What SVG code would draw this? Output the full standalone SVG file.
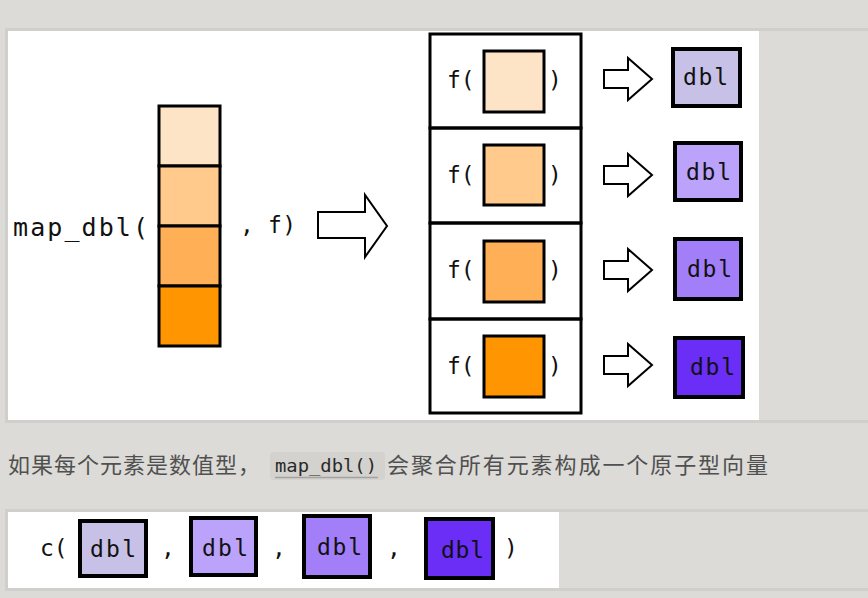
<svg xmlns="http://www.w3.org/2000/svg" width="868" height="598" viewBox="0 0 868 598">
<defs>
<style>
.mono{font-family:"DejaVu Sans Mono","Liberation Mono",monospace;fill:#111;}
.lbl{font-family:"DejaVu Sans Mono","Liberation Mono",monospace;fill:#111;font-size:23px;}
.cell{stroke:#000;stroke-width:3;}
.dbl{stroke:#000;stroke-width:4;}
.frame{fill:none;stroke:#000;stroke-width:3;}
.arrow{fill:#fff;stroke:#000;stroke-width:2;stroke-linejoin:miter;}
.cjk{font-family:"Noto Sans CJK SC","Noto Sans",sans-serif;fill:#505050;font-size:22px;}
</style>
</defs>
<rect x="0" y="0" width="868" height="598" fill="#dcdbd7"/>
<!-- top panel -->
<rect x="5" y="28" width="870" height="395" fill="#d0cfcb"/>
<rect x="8" y="31" width="860" height="389" fill="#dcdbd7"/>
<rect x="8" y="31" width="751" height="389" fill="#ffffff"/>
<!-- bottom panel -->
<rect x="5" y="509" width="870" height="82" fill="#d0cfcb"/>
<rect x="8" y="512" width="860" height="76" fill="#dcdbd7"/>
<rect x="8" y="512" width="551" height="76" fill="#ffffff"/>

<g id="input">
<text class="mono" x="13" y="236" font-size="25" textLength="135" lengthAdjust="spacing">map_dbl(</text>
<rect class="cell" x="159" y="106" width="61" height="60" fill="#FEE4C7"/>
<rect class="cell" x="159" y="166" width="61" height="60" fill="#FFCA8C"/>
<rect class="cell" x="159" y="226" width="61" height="60" fill="#FFAF55"/>
<rect class="cell" x="159" y="286" width="61" height="60" fill="#FF9500"/>
<text class="mono" x="240" y="233" font-size="23" textLength="56" lengthAdjust="spacing">, f)</text>
</g>

<g id="apply-1">
<rect class="frame" x="430" y="34" width="151" height="94"/>
<text class="mono" x="447" y="88" font-size="23">f(</text>
<rect class="cell" x="484" y="51" width="60" height="61" fill="#FEE4C7"/>
<text class="mono" x="548" y="88" font-size="23">)</text>
</g>
<g id="apply-2">
<rect class="frame" x="430" y="128" width="151" height="95"/>
<text class="mono" x="447" y="183" font-size="23">f(</text>
<rect class="cell" x="484" y="145" width="60" height="60" fill="#FFCA8C"/>
<text class="mono" x="548" y="183" font-size="23">)</text>
</g>
<g id="apply-3">
<rect class="frame" x="430" y="223" width="151" height="96"/>
<text class="mono" x="447" y="278" font-size="23">f(</text>
<rect class="cell" x="484" y="241" width="60" height="61" fill="#FFAF55"/>
<text class="mono" x="548" y="278" font-size="23">)</text>
</g>
<g id="apply-4">
<rect class="frame" x="430" y="319" width="151" height="94"/>
<text class="mono" x="447" y="374" font-size="23">f(</text>
<rect class="cell" x="484" y="336" width="60" height="61" fill="#FF9500"/>
<text class="mono" x="548" y="374" font-size="23">)</text>
</g>

<g id="out-1">
<rect class="dbl" x="673" y="49" width="67" height="57" fill="#C8C1E7"/>
<text class="lbl" x="683" y="85" textLength="45" lengthAdjust="spacing">dbl</text>
</g>
<g id="out-2">
<rect class="dbl" x="675" y="143" width="66" height="57" fill="#BBA3FB"/>
<text class="lbl" x="686" y="180" textLength="45" lengthAdjust="spacing">dbl</text>
</g>
<g id="out-3">
<rect class="dbl" x="675" y="239" width="66" height="60" fill="#A27EF8"/>
<text class="lbl" x="687" y="277" textLength="45" lengthAdjust="spacing">dbl</text>
</g>
<g id="out-4">
<rect class="dbl" x="675" y="338" width="68" height="59" fill="#6A2EF7"/>
<text class="lbl" x="690" y="375" textLength="45" lengthAdjust="spacing">dbl</text>
</g>

<g id="connectors">
<path class="arrow" d="M318,212 L365,212 L365,195 L387,226 L365,257 L365,238 L318,238 Z"/>
<path class="arrow" d="M604,70 L628,70 L628,58 L652,79 L628,100 L628,88 L604,88 Z"/>
<path class="arrow" d="M604,166 L628,166 L628,154 L652,175 L628,196 L628,184 L604,184 Z"/>
<path class="arrow" d="M604,261 L628,261 L628,249 L652,270 L628,291 L628,279 L604,279 Z"/>
<path class="arrow" d="M604,356 L628,356 L628,344 L652,365 L628,386 L628,374 L604,374 Z"/>
</g>

<g id="caption">
<text class="cjk" x="8" y="473" textLength="252" lengthAdjust="spacing">如果每个元素是数值型，</text>
<rect x="270" y="452" width="115" height="28" rx="4" fill="#d3d2ce"/>
<text x="275" y="472" font-family="DejaVu Sans Mono,Liberation Mono,monospace" font-size="17" fill="#2a2a2a" textLength="102" lengthAdjust="spacingAndGlyphs">map_dbl()</text>
<line x1="275" y1="477.5" x2="378" y2="477.5" stroke="#a3a29e" stroke-width="1.5"/>
<text class="cjk" x="387" y="473" textLength="381" lengthAdjust="spacing">会聚合所有元素构成一个原子型向量</text>
</g>

<g id="result">
<text class="mono" x="40" y="556" font-size="23">c(</text>
<rect class="dbl" x="80" y="521" width="66" height="55" fill="#C8C1E7"/>
<text class="lbl" x="90" y="557" textLength="46" lengthAdjust="spacing">dbl</text>
<text class="mono" x="161" y="556" font-size="23">,</text>
<rect class="dbl" x="191" y="518" width="65" height="57" fill="#BBA3FB"/>
<text class="lbl" x="202" y="556" textLength="46" lengthAdjust="spacing">dbl</text>
<text class="mono" x="272" y="556" font-size="23">,</text>
<rect class="dbl" x="304" y="516" width="66" height="61" fill="#A27EF8"/>
<text class="lbl" x="317" y="555" textLength="45" lengthAdjust="spacing">dbl</text>
<text class="mono" x="387" y="556" font-size="23">,</text>
<rect class="dbl" x="426" y="519" width="67" height="59" fill="#6A2EF7"/>
<text class="lbl" x="441" y="558" textLength="43" lengthAdjust="spacing">dbl</text>
<text class="mono" x="504" y="556" font-size="23">)</text>
</g>
</svg>
